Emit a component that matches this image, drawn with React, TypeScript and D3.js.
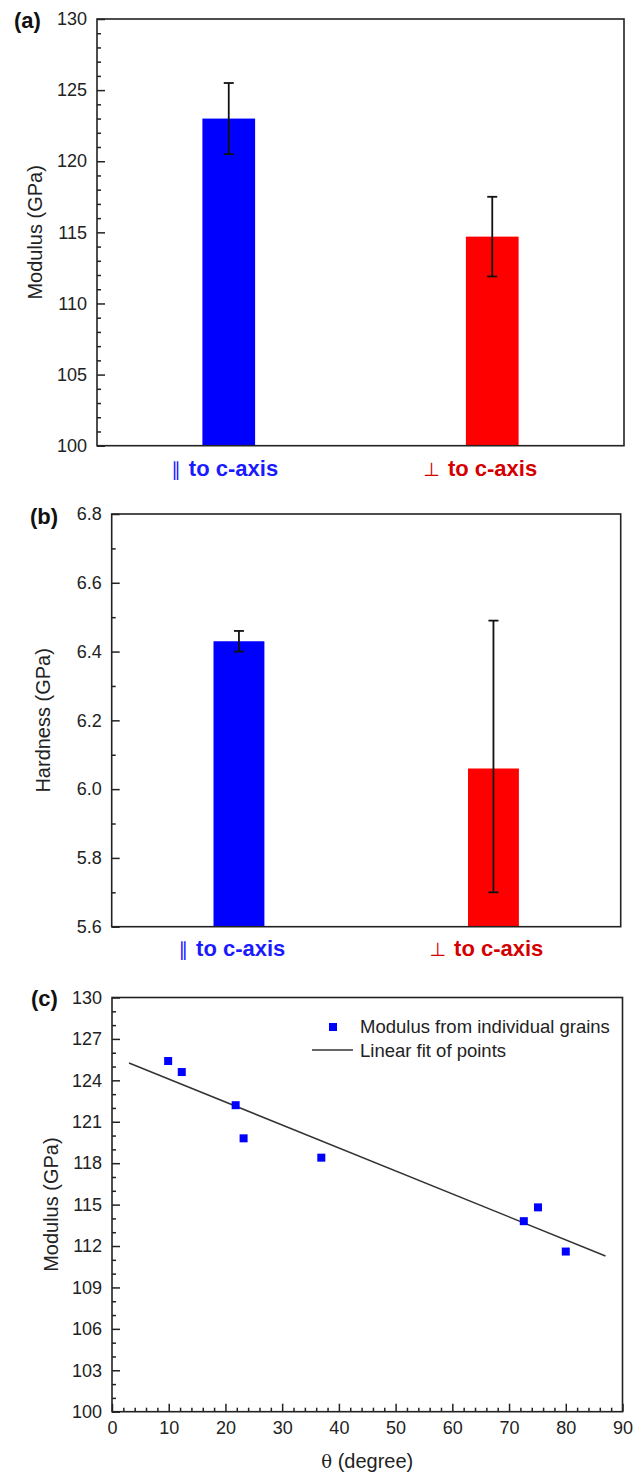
import React, { useEffect, useRef } from "react";
import * as d3 from "d3";

const W = 639;
const H = 1476;
const FONT = '"Liberation Sans", Arial, Helvetica, sans-serif';

// ---- data ----
const categorySymbols = ["\u2225", "\u22A5"];
const categoryText = ["to c-axis", "to c-axis"];
const barColors = ["#0000ff", "#ff0000"];
const labelColors = ["#1a1aff", "#d40000"];

const modulusValues = [123.0, 114.7];
const modulusErrPlus = [2.5, 2.8];
const modulusErrMinus = [2.5, 2.8];
const modulusTicks = [100, 105, 110, 115, 120, 125, 130];

const hardnessValues = [6.43, 6.06];
const hardnessErrPlus = [0.03, 0.43];
const hardnessErrMinus = [0.03, 0.36];
const hardnessTicks = [5.6, 5.8, 6.0, 6.2, 6.4, 6.6, 6.8];

const grainAngles = [9.9, 12.3, 21.8, 23.2, 36.9, 72.6, 75.1, 80.0];
const grainModulus = [125.4, 124.6, 122.2, 119.8, 118.4, 113.8, 114.8, 111.6];
const fitAngles = [3, 87];
const fitModulus = [125.26, 111.28];
const angleTicks = [0, 10, 20, 30, 40, 50, 60, 70, 80, 90];
const modulusCTicks = [100, 103, 106, 109, 112, 115, 118, 121, 124, 127, 130];

type Box = { l: number; t: number; r: number; b: number };

function minorValues(lo: number, hi: number, step: number, majors: number[]) {
  const n = Math.round((hi - lo) / step);
  const out: number[] = [];
  for (let i = 0; i <= n; i++) {
    const v = +(lo + i * step).toFixed(6);
    if (!majors.some((m) => Math.abs(m - v) < 1e-6)) out.push(v);
  }
  return out;
}

function styleAxis(g: any, size: number) {
  g.select(".domain").remove();
  g.selectAll("line").attr("stroke", "#222").attr("stroke-width", 1.5);
  g.selectAll("text")
    .attr("fill", "#222")
    .attr("font-family", FONT)
    .attr("font-size", size);
}

function drawFrame(g: any, box: Box) {
  g.append("rect")
    .attr("x", box.l)
    .attr("y", box.t)
    .attr("width", box.r - box.l)
    .attr("height", box.b - box.t)
    .attr("fill", "none")
    .attr("stroke", "#222")
    .attr("stroke-width", 1.6);
}

function barPanel(
  svg: any,
  box: Box,
  majors: number[],
  minorStep: number,
  values: number[],
  errPlus: number[],
  errMinus: number[],
  fmt: (v: number) => string,
  title: string,
  titleX: number,
  tag: string,
  tagPos: [number, number],
  labelY: number,
  labelOffsets: number[]
) {
  const g = svg.append("g");
  const y = d3
    .scaleLinear()
    .domain([majors[0], majors[majors.length - 1]])
    .range([box.b, box.t]);
  const x = d3
    .scalePoint<number>()
    .domain(values.map((_, i) => i))
    .range([box.l, box.r])
    .padding(0.5);
  const bw = x.step() * 0.2;

  // bars
  g.selectAll("rect.bar")
    .data(values)
    .join("rect")
    .attr("class", "bar")
    .attr("x", (_: number, i: number) => (x(i) as number) - bw / 2)
    .attr("y", (d: number) => y(d))
    .attr("width", bw)
    .attr("height", (d: number) => box.b - y(d))
    .attr("fill", (_: number, i: number) => barColors[i]);

  // error bars
  const eg = g.append("g").attr("stroke", "#111").attr("stroke-width", 1.8);
  values.forEach((v, i) => {
    const cx = x(i) as number;
    const hi = y(v + errPlus[i]);
    const lo = y(v - errMinus[i]);
    eg.append("line").attr("x1", cx).attr("x2", cx).attr("y1", hi).attr("y2", lo);
    eg.append("line").attr("x1", cx - 5).attr("x2", cx + 5).attr("y1", hi).attr("y2", hi);
    eg.append("line").attr("x1", cx - 5).attr("x2", cx + 5).attr("y1", lo).attr("y2", lo);
  });

  // axes
  const ax = g
    .append("g")
    .attr("transform", `translate(${box.l},0)`)
    .call(d3.axisLeft(y).tickValues(majors).tickSize(-8).tickPadding(10).tickFormat(fmt as any));
  styleAxis(ax, 18);
  const minors = minorValues(majors[0], majors[majors.length - 1], minorStep, majors);
  const mx = g
    .append("g")
    .attr("transform", `translate(${box.l},0)`)
    .call(d3.axisLeft(y).tickValues(minors).tickSize(-4).tickFormat(() => ""));
  styleAxis(mx, 18);

  drawFrame(g, box);

  // category labels
  values.forEach((_, i) => {
    const t = g
      .append("text")
      .attr("x", (x(i) as number) + labelOffsets[i])
      .attr("y", labelY)
      .attr("text-anchor", "middle")
      .attr("font-family", FONT)
      .attr("font-size", 22)
      .attr("fill", labelColors[i]);
    t.append("tspan").attr("font-weight", "normal").attr("font-family", '"DejaVu Sans", sans-serif').attr("font-size", 19).text(categorySymbols[i]);
    t.append("tspan").attr("font-weight", "bold").attr("dx", 8).text(categoryText[i]);
  });

  // title
  g.append("text")
    .attr("transform", `translate(${titleX},${(box.t + box.b) / 2}) rotate(-90)`)
    .attr("text-anchor", "middle")
    .attr("font-family", FONT)
    .attr("font-size", 20)
    .attr("fill", "#222")
    .text(title);

  g.append("text")
    .attr("x", tagPos[0])
    .attr("y", tagPos[1])
    .attr("font-family", FONT)
    .attr("font-size", 22)
    .attr("font-weight", "bold")
    .attr("fill", "#111")
    .text(tag);
}

function scatterPanel(svg: any, box: Box) {
  const g = svg.append("g");
  const x = d3.scaleLinear().domain([0, 90]).range([box.l, box.r]);
  const y = d3.scaleLinear().domain([100, 130]).range([box.b, box.t]);

  // y axis
  const ay = g
    .append("g")
    .attr("transform", `translate(${box.l},0)`)
    .call(d3.axisLeft(y).tickValues(modulusCTicks).tickSize(-8).tickPadding(10).tickFormat(d3.format("d") as any));
  styleAxis(ay, 18);
  const my = g
    .append("g")
    .attr("transform", `translate(${box.l},0)`)
    .call(d3.axisLeft(y).tickValues(minorValues(100, 130, 1, modulusCTicks)).tickSize(-4).tickFormat(() => ""));
  styleAxis(my, 18);

  // x axis
  const ax = g
    .append("g")
    .attr("transform", `translate(0,${box.b})`)
    .call(d3.axisBottom(x).tickValues(angleTicks).tickSize(-8).tickPadding(10).tickFormat(d3.format("d") as any));
  styleAxis(ax, 18);
  const mxx = g
    .append("g")
    .attr("transform", `translate(0,${box.b})`)
    .call(d3.axisBottom(x).tickValues(minorValues(0, 90, 2, angleTicks)).tickSize(-4).tickFormat(() => ""));
  styleAxis(mxx, 18);

  drawFrame(g, box);

  // fit line
  const line = d3
    .line<number>()
    .x((d) => x(d))
    .y((_, i) => y(fitModulus[i]));
  g.append("path")
    .attr("d", line(fitAngles))
    .attr("fill", "none")
    .attr("stroke", "#333")
    .attr("stroke-width", 1.5);

  // points
  const s = 8;
  g.selectAll("rect.pt")
    .data(grainAngles)
    .join("rect")
    .attr("class", "pt")
    .attr("x", (d: number) => x(d) - s / 2)
    .attr("y", (_: number, i: number) => y(grainModulus[i]) - s / 2)
    .attr("width", s)
    .attr("height", s)
    .attr("fill", "#0000ff");

  // legend
  g.append("rect").attr("x", 329).attr("y", 1023).attr("width", s).attr("height", s).attr("fill", "#0000ff");
  g.append("text")
    .attr("x", 360)
    .attr("y", 1033)
    .attr("font-family", FONT)
    .attr("font-size", 18.5)
    .attr("fill", "#222")
    .text("Modulus from individual grains");
  g.append("line").attr("x1", 312).attr("x2", 353).attr("y1", 1050).attr("y2", 1050).attr("stroke", "#333").attr("stroke-width", 1.5);
  g.append("text")
    .attr("x", 360)
    .attr("y", 1056.5)
    .attr("font-family", FONT)
    .attr("font-size", 18.5)
    .attr("fill", "#222")
    .text("Linear fit of points");

  // titles
  g.append("text")
    .attr("transform", `translate(58,${(box.t + box.b) / 2}) rotate(-90)`)
    .attr("text-anchor", "middle")
    .attr("font-family", FONT)
    .attr("font-size", 20)
    .attr("fill", "#222")
    .text("Modulus (GPa)");
  const xt = g
    .append("text")
    .attr("x", (box.l + box.r) / 2)
    .attr("y", 1468)
    .attr("text-anchor", "middle")
    .attr("font-family", FONT)
    .attr("font-size", 20)
    .attr("fill", "#222");
  xt.append("tspan").attr("font-family", '"DejaVu Serif", "Liberation Serif", serif').attr("font-size", 18).text("\u03B8");
  xt.append("tspan").text(" (degree)");

  g.append("text")
    .attr("x", 31)
    .attr("y", 1006)
    .attr("font-family", FONT)
    .attr("font-size", 22)
    .attr("font-weight", "bold")
    .attr("fill", "#111")
    .text("(c)");
}

export default function App() {
  const ref = useRef<SVGSVGElement | null>(null);
  useEffect(() => {
    const svg = d3.select(ref.current);
    svg.selectAll("*").remove();
    svg.append("rect").attr("width", W).attr("height", H).attr("fill", "#fff");
    barPanel(
      svg,
      { l: 97, t: 19, r: 624, b: 445.7 },
      modulusTicks,
      1,
      modulusValues,
      modulusErrPlus,
      modulusErrMinus,
      d3.format("d"),
      "Modulus (GPa)",
      42,
      "(a)",
      [14, 28],
      476,
      [-4, -12]
    );
    barPanel(
      svg,
      { l: 111.7, t: 514, r: 620.7, b: 926.7 },
      hardnessTicks,
      0.1,
      hardnessValues,
      hardnessErrPlus,
      hardnessErrMinus,
      d3.format(".1f"),
      "Hardness (GPa)",
      50,
      "(b)",
      [30, 524],
      956,
      [-7, -7]
    );
    scatterPanel(svg, { l: 112, t: 997.5, r: 622.5, b: 1411.7 });
  }, []);
  return (
    <svg
      ref={ref}
      width={W}
      height={H}
      viewBox={`0 0 ${W} ${H}`}
      style={{ position: "absolute", left: 0, top: 0, display: "block" }}
    />
  );
}
